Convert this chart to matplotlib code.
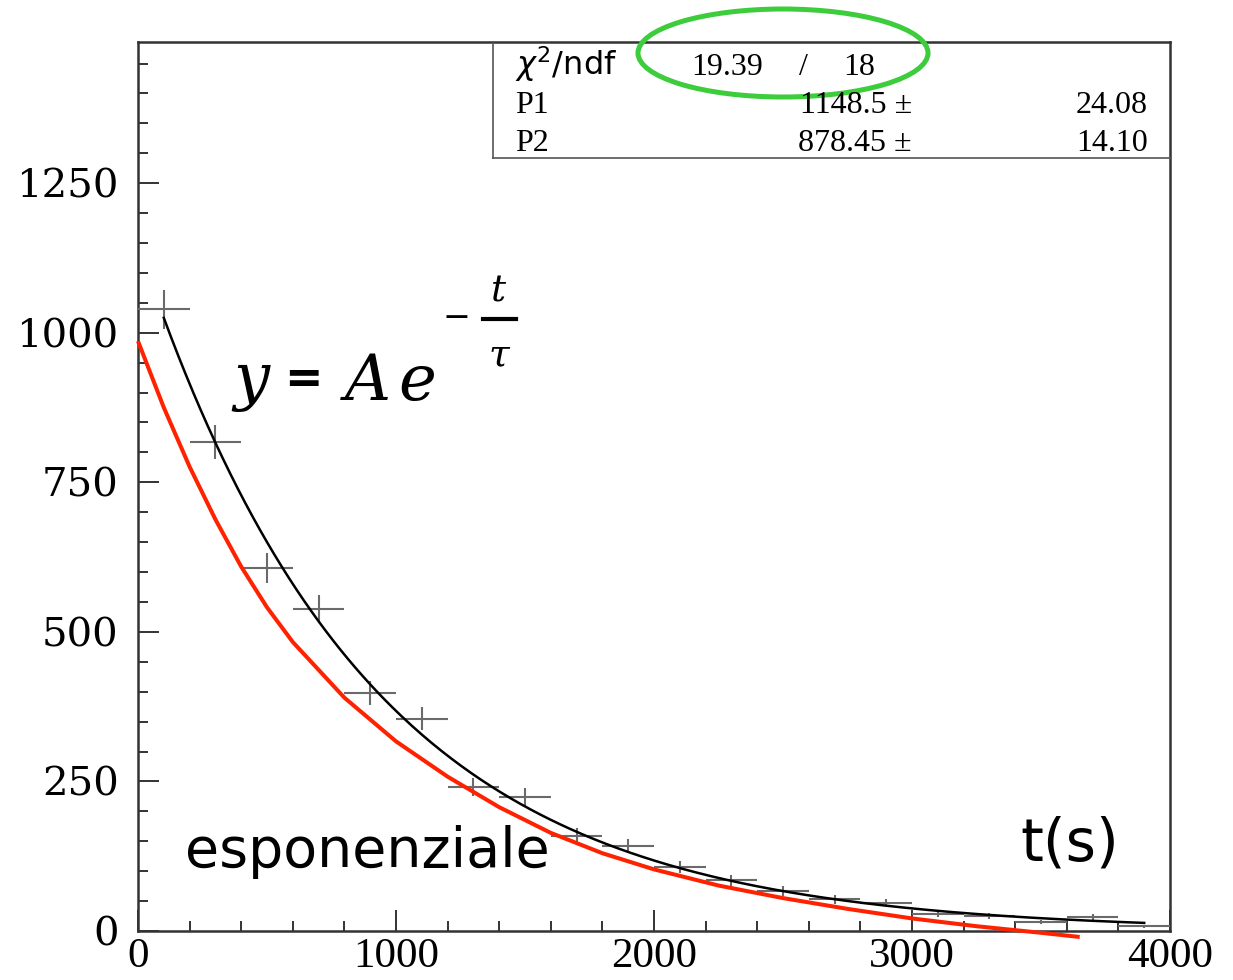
import numpy as np
import matplotlib.pyplot as plt
from matplotlib.patches import Ellipse
from matplotlib.lines import Line2D

# =================== data ===================
bin_centers = [100, 300, 500, 700, 900, 1100, 1300, 1500, 1700, 1900,
               2100, 2300, 2500, 2700, 2900, 3100, 3300, 3500, 3700, 3900]
counts = [1039, 817, 607, 538, 398, 355, 241, 224, 159, 142,
          107, 85, 67, 53, 47, 29, 25, 15, 24, 8]
bin_width = 200

# fit result (stats box)
chi2 = 19.39
ndf = 18
p1, p1_err = 1148.5, 24.08
p2, p2_err = 878.45, 14.10
fit_range = [100, 3900]

# red "esponenziale" curve, read point by point
red_t = [0, 100, 200, 300, 400, 500, 600, 800, 1000, 1200, 1400, 1600,
         1800, 2000, 2250, 2500, 2750, 3000, 3250, 3500, 3650]
red_y = [986, 875, 776, 688, 609, 541, 483, 390, 317, 258, 207, 164,
         130, 103, 76, 55, 37, 21, 8, -3, -10]

W, H = 1233, 980


def fx(x):
    return x / W


def fy(y):
    return 1 - y / H


fig = plt.figure(figsize=(W / 100, H / 100), dpi=100)
ax = fig.add_axes([fx(138), fy(931), fx(1170) - fx(138), fy(42) - fy(931)])

# histogram points with errors
ax.errorbar(bin_centers, counts, xerr=bin_width / 2, yerr=np.sqrt(counts),
            fmt='none', ecolor='#6a6a6a', elinewidth=1.5, capsize=0, zorder=3)

# fitted exponential
t = np.linspace(fit_range[0], fit_range[1], 400)
ax.plot(t, p1 * np.exp(-t / p2), color='black', lw=1.8, zorder=4)

# red curve
ax.plot(red_t, red_y, color='#ff2200', lw=2.9, zorder=5, clip_on=False,
        solid_capstyle='butt', solid_joinstyle='round')

ax.set_xlim(0, 4000)
ax.set_ylim(0, 1486)

for s in ax.spines.values():
    s.set_color('#333333')
    s.set_linewidth(1.8)

ax.set_xticks([0, 1000, 2000, 3000, 4000])
ax.set_xticks(np.arange(0, 4001, 200), minor=True)
ax.set_yticks([0, 250, 500, 750, 1000, 1250])
ax.set_yticks(np.arange(0, 1486, 50), minor=True)
ax.tick_params(which='both', direction='in', top=False, right=False,
               color='#333333', width=1.4)
ax.tick_params(which='major', length=15)
ax.tick_params(which='minor', length=7.5)
ax.tick_params(axis='y', pad=14)
ax.tick_params(axis='x', pad=5)
for lab in ax.get_xticklabels():
    lab.set_fontfamily('Liberation Serif')
    lab.set_fontsize(31)
for lab in ax.get_yticklabels():
    lab.set_fontfamily('DejaVu Serif')
    lab.set_fontsize(29)

# =================== stats box ===================
fig.add_artist(Line2D([fx(493), fx(493)], [fy(42), fy(158)], color='#555555', lw=1.2))
fig.add_artist(Line2D([fx(493), fx(1170)], [fy(158), fy(158)], color='#555555', lw=1.2))

serif = 'Liberation Serif'
fig.text(fx(515), fy(75), r'$\chi^2$/ndf', fontsize=23, family='DejaVu Sans', va='baseline')
fig.text(fx(727), fy(75), '%.2f' % chi2, fontsize=23, family=serif, va='baseline', ha='center')
fig.text(fx(803), fy(75), '/', fontsize=23, family=serif, va='baseline', ha='center')
fig.text(fx(859), fy(75), '%d' % ndf, fontsize=23, family=serif, va='baseline', ha='center')

fig.text(fx(515), fy(113), 'P1', fontsize=23, family=serif, va='baseline')
fig.text(fx(912), fy(113), '%.1f ±' % p1, fontsize=23, family=serif, va='baseline', ha='right')
fig.text(fx(1148), fy(113), '%.2f' % p1_err, fontsize=23, family=serif, va='baseline', ha='right')
fig.text(fx(515), fy(151), 'P2', fontsize=23, family=serif, va='baseline')
fig.text(fx(912), fy(151), '%.2f ±' % p2, fontsize=23, family=serif, va='baseline', ha='right')
fig.text(fx(1148), fy(151), '%.2f' % p2_err, fontsize=23, family=serif, va='baseline', ha='right')

# green ellipse round chi2/ndf
fig.add_artist(Ellipse((fx(783), fy(53)), fx(290), 88 / H, fill=False,
                       edgecolor='#3ccc3c', lw=3.6, transform=fig.transFigure))

# =================== formula y = A e^(-t/tau) ===================
fs = 46
fig.text(fx(233), fy(398), 'y', fontsize=fs, family='DejaVu Serif', style='italic', va='baseline')
fig.text(fx(284), fy(393), '=', fontsize=33, family='DejaVu Sans', weight='bold', va='baseline')
fig.text(fx(345), fy(400), 'A', fontsize=fs, family='DejaVu Serif', style='italic', va='baseline')
fig.text(fx(398), fy(400), 'e', fontsize=fs, family='DejaVu Serif', style='italic', va='baseline')
fig.text(fx(456), fy(327), '−', fontsize=24, family='DejaVu Sans', va='baseline', ha='center')
fig.text(fx(499), fy(302), 't', fontsize=27, family='DejaVu Serif', style='italic', va='baseline', ha='center')
fig.add_artist(Line2D([fx(483), fx(516)], [fy(319), fy(319)], color='black', lw=3))
fig.text(fx(499), fy(365), 'τ', fontsize=27, family='DejaVu Serif', style='italic', va='baseline', ha='center')

# labels written on the slide
fig.text(fx(185), fy(867), 'esponenziale', fontsize=40, family='DejaVu Sans', va='baseline')
fig.text(fx(1020), fy(860), 't(s)', fontsize=42, family='DejaVu Sans', va='baseline')

plt.savefig('out.png', dpi=100)
